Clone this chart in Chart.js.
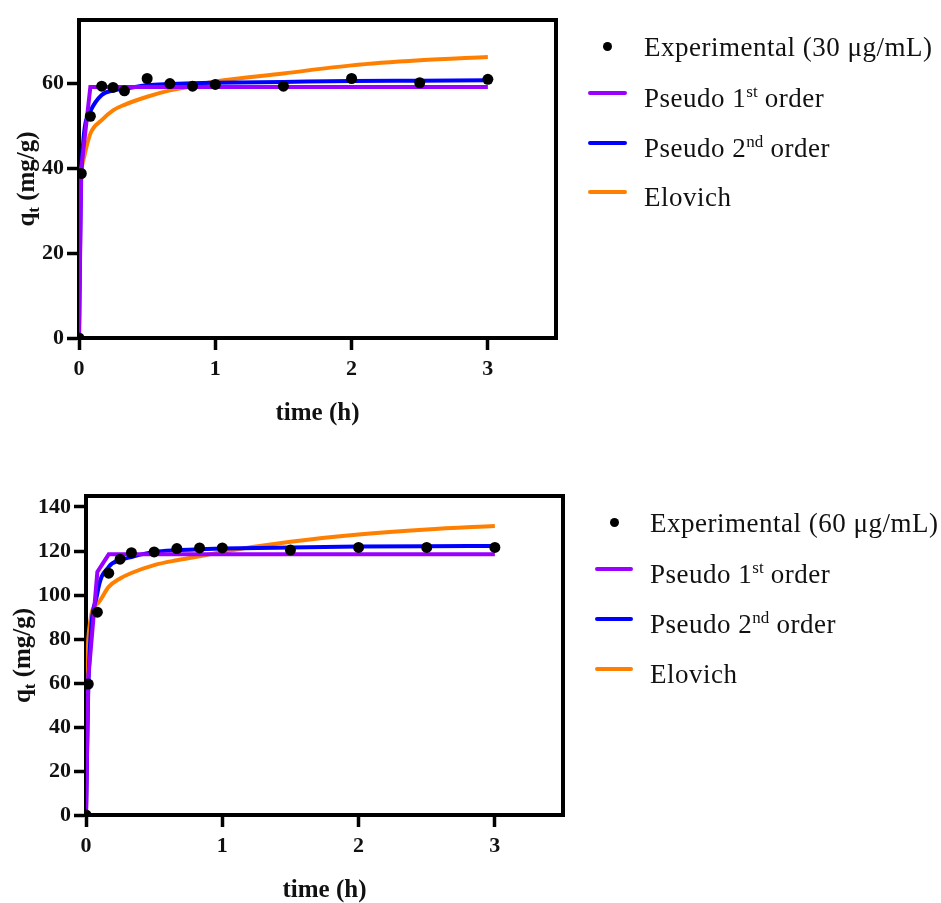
<!DOCTYPE html>
<html lang="en">
<head>
<meta charset="UTF-8">
<title>Adsorption kinetics</title>
<script src="https://cdn.jsdelivr.net/npm/chart.js@4.4.0/dist/chart.umd.min.js"></script>
<style>
  body { margin: 0; background: #fff; width: 941px; height: 903px; position: relative; overflow: hidden; font-family: 'Liberation Serif', serif; }
  canvas { position: absolute; left: 0; }
  .lg-text { position: absolute; font-size: 27px; line-height: 30px; letter-spacing: 0.5px; color: #111; white-space: nowrap; }
  .lg-text sup { font-size: 17px; vertical-align: 0; position: relative; top: -10px; letter-spacing: 0; }
  .lg-line { position: absolute; height: 4px; border-radius: 2px; }
  .lg-dot { position: absolute; width: 9px; height: 9px; border-radius: 50%; background: #000; }
</style>
</head>
<body>
<canvas id="topChart" width="941" height="450" style="top:0"></canvas>
<canvas id="bottomChart" width="941" height="453" style="top:450px"></canvas>
<div id="legends"></div>
<script>
// time points (h)
const timeH = [0, 0.0167, 0.0833, 0.1667, 0.25, 0.3333, 0.5, 0.6667, 0.8333, 1, 1.5, 2, 2.5, 3];

// 30 ug/mL
const expTop = [0, 38.8, 52.3, 59.4, 59.1, 58.3, 61.2, 60.0, 59.4, 59.8, 59.4, 61.2, 60.2, 61.0];
const pfoTop = [0, 40, 59.2, 59.2, 59.2, 59.2, 59.2, 59.2, 59.2, 59.2, 59.2, 59.2, 59.2, 59.2];
const psoTop = [0, 39, 53.5, 57.3, 58.4, 58.8, 59.6, 59.9, 60.1, 60.2, 60.4, 60.6, 60.7, 60.8];
// Elovich fit starts at the first sampled time (hidden under the steep fits before that)
const eloTop = [null, 40, 48.2, 51.4, 53.7, 55.0, 56.9, 58.4, 59.4, 60.5, 62.4, 64.3, 65.5, 66.3];

// 60 ug/mL
const expBottom = [0, 59.5, 92.2, 109.9, 116.3, 119.2, 119.6, 121.1, 121.4, 121.4, 120.4, 121.6, 121.6, 121.6];
const pfoBottom = [0, 62, 110.5, 118.5, 118.5, 118.5, 118.5, 118.5, 118.5, 118.5, 118.5, 118.5, 118.5, 118.5];
const psoBottom = [0, 58, 100.7, 112.8, 115.8, 117.3, 119.6, 120.4, 120.8, 121.1, 121.6, 122.0, 122.2, 122.3];
const eloBottom = [0, 80, 96.1, 103.7, 107.5, 110.0, 113.6, 115.8, 117.6, 119.6, 124.2, 127.5, 129.8, 131.4];

const xTicks = [0, 1, 2, 3];
const yTicksTop = [0, 20, 40, 60];
const yTicksBottom = [0, 20, 40, 60, 80, 100, 120, 140];

// legend labels: [text, superscript, rest]
const legendTop = [['Experimental (30 μg/mL)', '', ''], ['Pseudo 1', 'st', ' order'], ['Pseudo 2', 'nd', ' order'], ['Elovich', '', '']];
const legendBottom = [['Experimental (60 μg/mL)', '', ''], ['Pseudo 1', 'st', ' order'], ['Pseudo 2', 'nd', ' order'], ['Elovich', '', '']];

const colors = { exp: '#000000', pfo: '#9a00ff', pso: '#0000ff', elo: '#ff8000' };
const serif = 'Liberation Serif';

const xy = (ys) => timeH.map((t, i) => ({ x: t, y: ys[i] })).filter(p => p.y !== null);

function framePlugin() {
    return {
        id: 'frame',
        beforeDatasetsDraw(chart) {
            const a = chart.chartArea, ctx = chart.ctx;
            ctx.save();
            ctx.strokeStyle = '#000';
            ctx.lineWidth = 4;
            ctx.strokeRect(a.left, a.top, a.right - a.left, a.bottom - a.top);
            ctx.restore();
        }
    };
}

function titlePlugin(yTitleX) {
    return {
        id: 'titles',
        afterDraw(chart) {
            const a = chart.chartArea, ctx = chart.ctx;
            ctx.save();
            ctx.fillStyle = '#111';
            ctx.textBaseline = 'alphabetic';
            // x title
            ctx.font = 'bold 25px "' + serif + '"';
            ctx.textAlign = 'center';
            ctx.fillText('time (h)', (a.left + a.right) / 2, a.bottom + 74 + 8);
            // y title, rotated, with subscript t
            const big = 'bold 25px "' + serif + '"', small = 'bold 17px "' + serif + '"';
            ctx.font = big; const wq = ctx.measureText('q').width;
            const wr = ctx.measureText(' (mg/g)').width;
            ctx.font = small; const wt = ctx.measureText('t').width;
            const total = wq + wt + wr;
            ctx.translate(yTitleX, (a.top + a.bottom) / 2);
            ctx.rotate(-Math.PI / 2);
            ctx.textAlign = 'left';
            let x0 = -total / 2;
            ctx.font = big; ctx.fillText('q', x0, 8);
            ctx.font = small; ctx.fillText('t', x0 + wq, 13);
            ctx.font = big; ctx.fillText(' (mg/g)', x0 + wq + wt, 8);
            ctx.restore();
        }
    };
}

function makeChart(id, data, yTicks, yMax, area, yTitleX) {
    const canvas = document.getElementById(id);
    const W = canvas.width, H = canvas.height;
    const tickFont = { family: serif, size: 22, weight: 'bold' };
    return new Chart(canvas, {
        type: 'line',
        data: {
            datasets: [
                { label: 'Experimental', data: xy(data.exp), showLine: false, pointRadius: 5.5, pointBackgroundColor: colors.exp, pointBorderWidth: 0 },
                { label: 'Pseudo 1st order', data: xy(data.pfo), borderColor: colors.pfo, borderWidth: 4, pointRadius: 0, tension: 0 },
                { label: 'Pseudo 2nd order', data: xy(data.pso), borderColor: colors.pso, borderWidth: 4, pointRadius: 0, cubicInterpolationMode: 'monotone' },
                { label: 'Elovich', data: xy(data.elo), borderColor: colors.elo, borderWidth: 4, pointRadius: 0, cubicInterpolationMode: 'monotone' }
            ]
        },
        options: {
            responsive: false,
            animation: false,
            devicePixelRatio: 1,
            layout: { padding: { left: 0, top: area.top, right: W - area.right, bottom: 0 } },
            plugins: { legend: { display: false }, tooltip: { enabled: false } },
            scales: {
                x: {
                    type: 'linear', min: 0, max: 3.5,
                    afterBuildTicks: (s) => { s.ticks = xTicks.map(v => ({ value: v })); },
                    afterFit: (s) => { s.height = H - area.bottom; },
                    ticks: { font: tickFont, color: '#111', padding: 6, maxRotation: 0 },
                    grid: { drawOnChartArea: false, tickLength: 12, tickWidth: 3.5, color: '#000' },
                    border: { display: true, width: 4, color: '#000' }
                },
                y: {
                    min: 0, max: yMax,
                    afterBuildTicks: (s) => { s.ticks = yTicks.map(v => ({ value: v })); },
                    afterFit: (s) => { s.width = area.left; },
                    ticks: { font: tickFont, color: '#111', padding: 3 },
                    grid: { drawOnChartArea: false, tickLength: 12, tickWidth: 3.5, color: '#000' },
                    border: { display: true, width: 4, color: '#000' }
                }
            }
        },
        plugins: [framePlugin(), titlePlugin(yTitleX)]
    });
}

makeChart('topChart', { exp: expTop, pfo: pfoTop, pso: psoTop, elo: eloTop }, yTicksTop, 75,
    { left: 79, right: 556, top: 20, bottom: 338 }, 26);
makeChart('bottomChart', { exp: expBottom, pfo: pfoBottom, pso: psoBottom, elo: eloBottom }, yTicksBottom, 145,
    { left: 86, right: 563, top: 46, bottom: 365 }, 22);

// legends (HTML so superscripts are real text)
function buildLegend(labels, lineX, lineW, textX, rowY) {
    const root = document.getElementById('legends');
    const markerColors = [colors.exp, colors.pfo, colors.pso, colors.elo];
    labels.forEach((lab, i) => {
        const cy = rowY[i];
        if (i === 0) {
            const d = document.createElement('div');
            d.className = 'lg-dot';
            d.style.left = (lineX + lineW / 2 - 4.5) + 'px';
            d.style.top = (cy - 5.5) + 'px';
            root.appendChild(d);
        } else {
            const l = document.createElement('div');
            l.className = 'lg-line';
            l.style.left = lineX + 'px';
            l.style.width = lineW + 'px';
            l.style.top = (cy - 7) + 'px';
            l.style.background = markerColors[i];
            root.appendChild(l);
        }
        const t = document.createElement('div');
        t.className = 'lg-text';
        t.style.left = textX + 'px';
        t.style.top = (cy - 15) + 'px';
        t.appendChild(document.createTextNode(lab[0]));
        if (lab[1]) {
            const s = document.createElement('sup');
            s.textContent = lab[1];
            t.appendChild(s);
        }
        if (lab[2]) t.appendChild(document.createTextNode(lab[2]));
        root.appendChild(t);
    });
}

buildLegend(legendTop, 588, 39, 644, [47, 97.5, 147.5, 197]);
buildLegend(legendBottom, 595, 38, 650, [523, 573.5, 624, 674]);
</script>
</body>
</html>
